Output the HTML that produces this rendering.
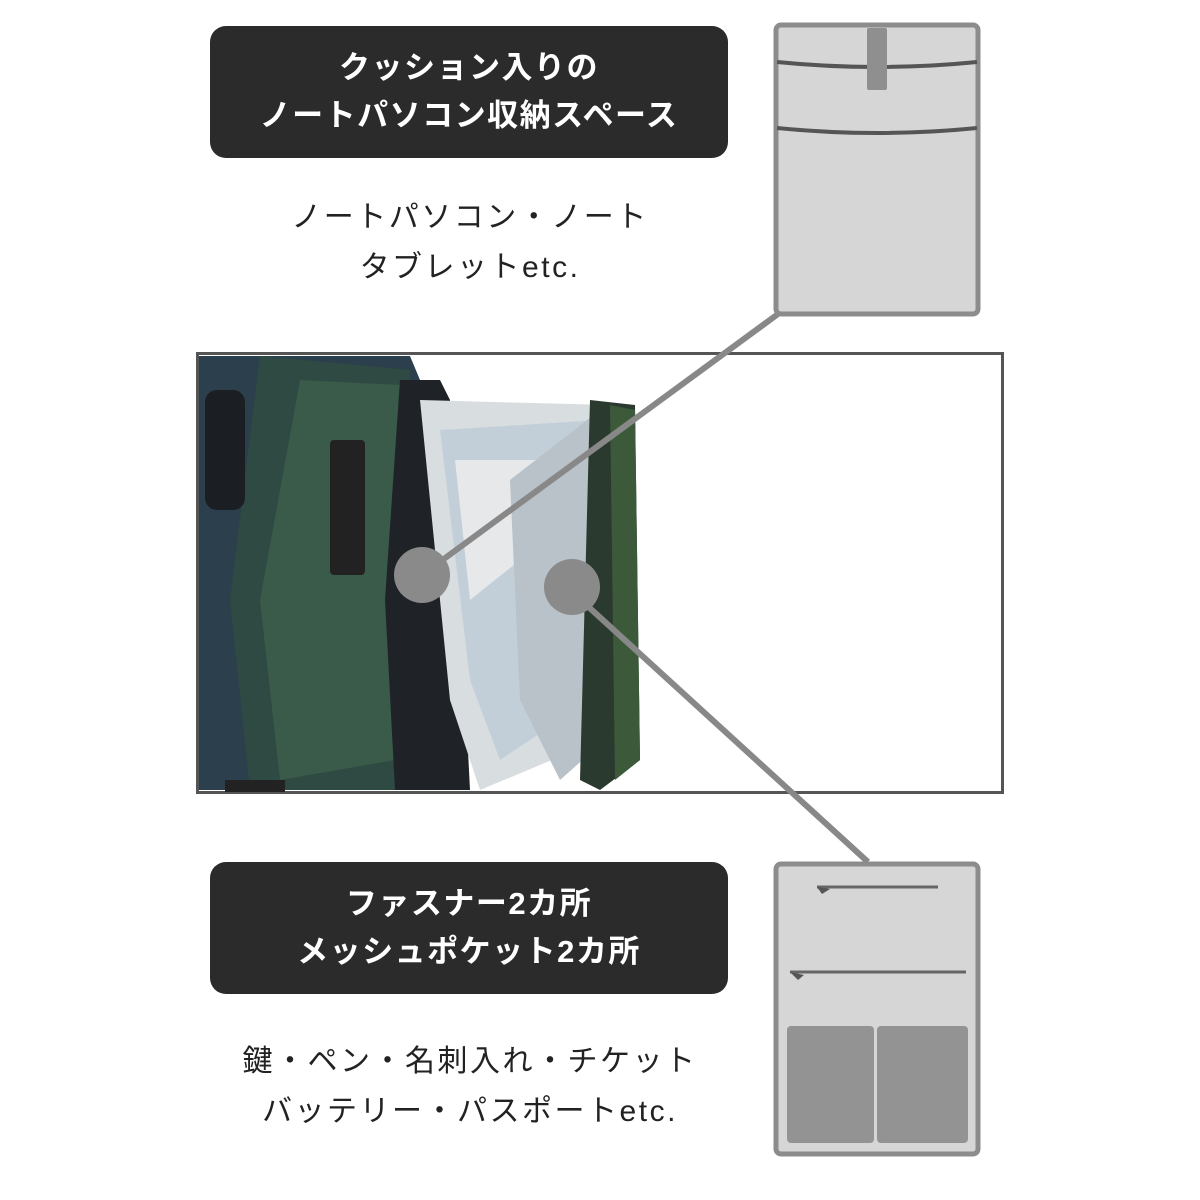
<!DOCTYPE html>
<html><head><meta charset="utf-8"><style>
body{margin:0;width:1200px;height:1200px;background:#fff;position:relative;overflow:hidden;font-family:"Liberation Sans","Noto Sans CJK JP",sans-serif}
.box{position:absolute;left:210px;width:518px;height:132px;background:#2b2b2b;border-radius:16px;color:#fff;font-weight:bold;font-size:31px;letter-spacing:1.5px;text-align:center;line-height:48px;box-sizing:border-box;padding-top:18px}
.sub{position:absolute;left:120px;width:700px;text-align:center;font-size:30px;letter-spacing:2.5px;line-height:50px;color:#222}
</style></head><body>
<div class="box" style="top:26px">クッション入りの<br>ノートパソコン収納スペース</div>
<div class="sub" style="top:193px">ノートパソコン・ノート<br>タブレットetc.</div>
<div class="box" style="top:862px">ファスナー2カ所<br>メッシュポケット2カ所</div>
<div class="sub" style="top:1037px">鍵・ペン・名刺入れ・チケット<br>バッテリー・パスポートetc.</div>
<svg width="1200" height="1200" style="position:absolute;left:0;top:0">
<rect x="197.5" y="353.5" width="805" height="439" fill="#fff" stroke="#555" stroke-width="3"/>
<polygon points="199,356 410,356 420,380 400,600 390,790 199,790" fill="#2c3f4c"/>
<polygon points="260,356 410,370 405,790 250,790 230,600" fill="#2f4a43"/>
<polygon points="300,380 400,385 395,760 280,780 260,600" fill="#3a5a4a"/>
<rect x="205" y="390" width="40" height="120" rx="12" fill="#1b1f24"/>
<rect x="330" y="440" width="35" height="135" rx="4" fill="#222"/>
<polygon points="400,380 440,380 450,400 470,790 395,790 385,600" fill="#1f2328"/>
<polygon points="420,400 610,405 600,740 480,790 450,700" fill="#d8dde0"/>
<polygon points="440,430 600,420 590,700 500,760 470,680" fill="#c3cfd8"/>
<polygon points="455,460 540,460 520,560 470,600" fill="#e6e8ea"/>
<polygon points="510,480 600,410 605,740 560,780 520,700" fill="#b8c2c8"/>
<polygon points="590,400 635,405 640,760 600,790 580,780" fill="#2a3a2e"/>
<polygon points="610,405 635,410 640,760 615,780" fill="#3c5a3a"/>
<rect x="225" y="780" width="60" height="12" fill="#222"/>
<line x1="422" y1="575" x2="778" y2="314" stroke="#888" stroke-width="6"/>
<line x1="570" y1="590" x2="868" y2="862" stroke="#888" stroke-width="6"/>
<circle cx="422" cy="575" r="28" fill="#8a8a8a"/>
<circle cx="572" cy="587" r="28" fill="#8a8a8a"/>
<rect x="776" y="25" width="202" height="289" rx="5" fill="#d6d6d6" stroke="#8c8c8c" stroke-width="5"/>
<path d="M777 62 Q877 72 977 62" stroke="#555" stroke-width="4" fill="none"/>
<path d="M777 128 Q877 138 977 128" stroke="#555" stroke-width="4" fill="none"/>
<rect x="867" y="28" width="20" height="62" rx="2" fill="#8f8f8f"/>
<rect x="776" y="864" width="202" height="290" rx="5" fill="#d6d6d6" stroke="#8c8c8c" stroke-width="5"/>
<line x1="817" y1="887" x2="938" y2="887" stroke="#666" stroke-width="3"/>
<polygon points="817,887 830,889 822,894" fill="#555"/>
<line x1="790" y1="972" x2="966" y2="972" stroke="#666" stroke-width="3"/>
<polygon points="790,972 804,975 798,980" fill="#555"/>
<rect x="787" y="1026" width="87" height="117" rx="4" fill="#939393"/>
<rect x="877" y="1026" width="91" height="117" rx="4" fill="#939393"/>
</svg>
</body></html>
